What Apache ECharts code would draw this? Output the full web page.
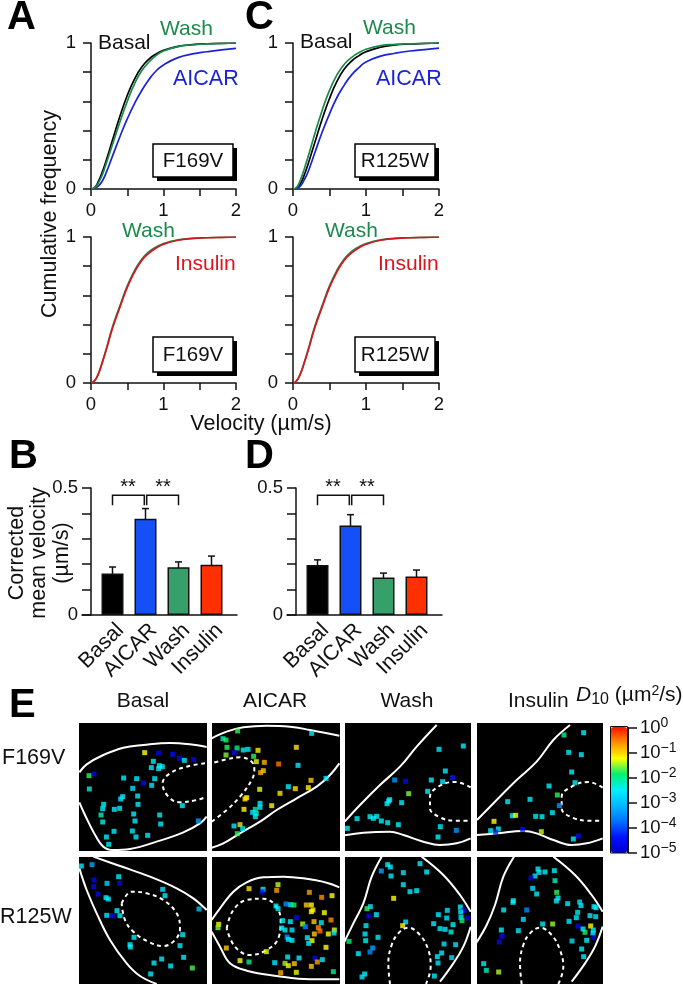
<!DOCTYPE html>
<html><head><meta charset="utf-8"><style>html,body{margin:0;padding:0;background:#fff;overflow:hidden}#c{width:683px;height:984px}</style>
<script src="https://cdn.jsdelivr.net/npm/echarts@6/dist/echarts.min.js"></script></head><body><div id="c"></div><script>
// ---- cumulative frequency curves
const velocity=[0,.05,.1,.15,.2,.3,.4,.5,.6,.7,.8,.9,1,1.2,1.4,1.6,1.8,2];
const aBasal=[0,.01,.05,.11,.18,.34,.5,.64,.752,.835,.89,.925,.95,.977,.989,.995,.998,1];
const aWash=[0,.008,.04,.09,.16,.31,.46,.6,.72,.81,.87,.915,.945,.975,.988,.994,.997,1];
const aAicar=[0,.005,.02,.05,.1,.23,.36,.48,.585,.675,.75,.81,.85,.9,.925,.94,.953,.963];
const aWash2=[0,.016,.062,.135,.215,.39,.53,.665,.77,.848,.9,.932,.955,.98,.991,.995,.998,1];
const aInsulin=[0,.015,.06,.13,.21,.38,.52,.655,.76,.84,.89,.925,.95,.978,.99,.995,.998,1];
const cBasal=[0,.006,.035,.09,.16,.32,.48,.62,.735,.82,.875,.912,.94,.972,.987,.993,.997,1];
const cWash=[0,.012,.06,.13,.21,.38,.54,.675,.78,.853,.9,.933,.957,.982,.991,.995,.998,1];
const cAicar=[0,.004,.02,.06,.11,.25,.39,.515,.625,.71,.78,.83,.87,.91,.93,.945,.955,.965];
const cWash2=[0,.016,.062,.135,.215,.39,.53,.665,.77,.848,.9,.932,.955,.98,.991,.995,.998,1];
const cInsulin=[0,.015,.06,.13,.21,.38,.52,.655,.76,.84,.89,.925,.95,.978,.99,.995,.998,1];
// ---- bars
const conditions=['Basal','AICAR','Wash','Insulin'];
const barColors=['#000000','#1450f5','#35a06a','#ff3000'];
const bMean=[.163,.379,.188,.198], bHigh=[.189,.419,.209,.232], bLow=[.137,.339,.161,.159];
const dMean=[.197,.352,.148,.152], dHigh=[.217,.395,.165,.177], dLow=[.177,.304,.126,.122];
// ---- D10 maps: [x, y, log10 D]
const fBasal=[[224,113,-1.25],[266,114,-4.6],[308,118,-4.5],[329,130,-4.6],[343,136,-2.5],[371,134,-4.6],[250,139,-2.5],[244,158,-2.5],[268,152,-2.5],[277,155,-2.5],[266,161,-2.5],[57,182,-1.75],[72,177,-4.6],[161,189,-2.5],[200,191,-2.5],[254,191,-2.5],[220,204,-4.6],[245,211,-2.6],[188,220,-2.6],[58,222,-2.3],[203,243,-2.5],[158,245,-2.5],[152,252,-2.6],[204,268,-2.5],[101,268,-2.5],[98,281,-2.5],[133,283,-2.5],[149,280,-2.5],[93,300,-2.2],[191,297,-2.5],[269,300,-2.5],[337,272,-2.5],[195,318,-2.5],[98,321,-2.4],[272,327,-2.5],[385,318,-3.3],[187,348,-2.5],[132,349,-2.5],[109,366,-2.5],[198,366,-2.5],[233,361,-2.5],[116,388,-2.5]];
const fAicar=[[503,48,-1.75],[725,55,-2.5],[459,71,-2.2],[468,75,-1.8],[471,97,-1.75],[501,99,-1.9],[493,113,-4.5],[520,105,-2.5],[534,103,-2.5],[564,106,-1.15],[679,97,-1.1],[468,120,-1.55],[551,124,-1.75],[559,140,-1.3],[583,142,-.85],[626,147,-.5],[684,151,-2.5],[580,167,-.95],[572,173,-.8],[768,190,-2.5],[723,196,-.95],[655,215,-2.5],[676,221,-1.1],[715,218,-1.2],[569,223,-1.3],[630,235,-1.1],[530,248,-1.25],[525,252,-1.1],[570,265,-2.5],[570,277,-2.5],[605,272,-1.2],[522,283,-1.2],[556,283,-2.05],[548,292,-2.5],[559,295,-2.3],[556,305,-2.5],[492,333,-2.5],[510,329,-1.1],[518,341,-2.5],[502,356,-1.75]];
const fWash=[[370,168,-2.5],[297,178,-2.5],[316,243,-2.5],[274,270,-2.5],[308,275,-2.5],[164,270,-3.4],[197,274,-4.6],[338,263,-4.3],[263,304,-2.5],[206,311,-1.55],[149,329,-2.5],[146,333,-2.5],[141,341,-2.5],[185,338,-2.5],[51,386,-2.5],[90,380,-2.5],[100,385,-2.5],[110,379,-2.5],[124,393,-2.5],[143,398,-2.5],[175,404,-2.5],[22,415,-2.5],[301,410,-2.5],[349,421,-3.4],[294,441,-2.5]];
const fInsulin=[[731,128,-2.5],[672,135,-2.05],[686,187,-2.5],[724,194,-2.5],[695,246,-2.5],[705,278,-2.5],[627,288,-2.5],[652,315,-1.75],[570,328,-2.5],[503,335,-2.5],[658,347,-3.4],[637,368,-2.5],[517,377,-2.5],[527,376,-1.25],[587,379,-2.5],[606,380,-2.5],[462,394,-1.25],[475,417,-2.5],[452,422,-2.5],[467,426,-4.2],[548,418,-4.5],[604,425,-1.4],[715,438,-4.5],[700,447,-2.5]];
const rBasal=[[34,48,-2.5],[66,44,-3.3],[146,80,-2.6],[72,90,-4.6],[111,100,-2.8],[149,100,-4.6],[71,110,-4.6],[278,118,-2.6],[84,132,-4.6],[285,137,-2.5],[108,143,-2.5],[115,147,-2.5],[141,182,-2.5],[110,196,-2.6],[128,197,-4.6],[150,197,-2.5],[387,177,-3],[338,254,-2.5],[192,262,-2.5],[180,284,-2.5],[181,291,-2.5],[330,287,-2.5],[341,322,-2.5],[275,327,-2.5],[252,339,-2.5],[302,348,-2.5],[367,354,-1.7],[242,372,-2.5]];
const rAicar=[[624,104,-1.4],[537,116,-1.1],[620,121,-.7],[579,118,-2.5],[576,126,-4.5],[718,127,-.7],[786,137,-1.25],[755,142,-.6],[648,162,-3.5],[662,164,-2.5],[672,165,-1.8],[618,168,-2.5],[624,176,-2.5],[709,165,-.95],[724,165,-1.25],[729,180,-1.1],[724,185,-1.25],[763,188,-1.25],[680,203,-4.5],[783,210,-.6],[638,212,-2.5],[661,215,-2.5],[732,215,-.95],[754,218,-2.5],[698,222,-1.45],[706,230,-3.5],[745,233,-.6],[750,243,-.5],[635,234,-2.5],[645,240,-2.5],[666,240,-2.6],[733,252,-.95],[775,252,-1.25],[793,240,-1.3],[792,249,-2.5],[446,223,-1.25],[444,233,-1.6],[651,261,-3.5],[712,263,-2.5],[655,268,-2.6],[666,271,-2.5],[726,272,-1.25],[716,280,-2.5],[469,294,-.95],[768,292,-1.25],[589,305,-1.3],[653,321,-2.5],[687,324,-2.5],[510,332,-1.25],[537,336,-2.05],[614,338,-2.5],[645,340,-1.5],[735,325,-4.6],[742,336,-.7],[757,329,-2.5],[673,341,-.95],[655,347,-1.3],[724,349,-.95],[632,368,-.8],[679,367,-1.3],[790,365,-2.05]];
const rWash=[[143,44,-2.5],[151,51,-2.5],[240,41,-2.5],[124,63,-3.3],[190,68,-2.6],[260,66,-2.5],[153,78,-2.5],[190,104,-2.5],[210,125,-2.5],[230,122,-2.5],[161,145,-1.25],[91,170,-2.5],[81,176,-1.75],[361,171,-2.5],[372,181,-4.6],[322,181,-2.6],[362,186,-2.5],[295,194,-2.6],[109,194,-2.5],[86,198,-4.7],[320,204,-2.6],[363,202,-2.5],[384,204,-4.6],[366,212,-1.9],[197,216,-2.5],[281,221,-2.5],[339,224,-2.5],[188,227,-1.25],[78,227,-2.5],[300,236,-2.5],[315,238,-2.5],[333,246,-2.4],[75,252,-2.5],[114,262,-2.5],[77,272,-2.5],[27,274,-1.9],[312,282,-2.6],[347,284,-2.6],[98,294,-3.3],[90,306,-3.5],[55,311,-2.5],[305,309,-2.5],[292,320,-2.5],[335,323,-2.7],[294,339,-2.6],[74,372,-2.5],[66,381,-2.6],[283,378,-2.5]];
const rInsulin=[[594,57,-2.5],[597,67,-2.5],[615,66,-2.5],[643,62,-2.5],[585,78,-2.6],[573,84,-4.6],[645,92,-2.2],[578,115,-2.6],[590,132,-2.5],[650,127,-1.75],[654,144,-2.5],[649,153,-2.5],[520,152,-2.5],[519,157,-2.5],[719,156,-2.7],[683,161,-2.5],[723,167,-2.5],[762,170,-2.5],[768,173,-2.5],[491,180,-2.5],[560,180,-3.5],[713,187,-2.5],[750,197,-2.5],[767,200,-2.6],[709,203,-2.5],[550,208,-2.6],[687,214,-2.5],[608,222,-2.5],[638,222,-1.5],[714,228,-4.6],[729,237,-2.5],[752,228,-1.25],[760,240,-2.5],[535,242,-2.6],[484,240,-2.5],[735,247,-1.8],[759,250,-2.5],[486,259,-4.5],[760,263,-4.7],[478,276,-4.6],[696,273,-2.7],[740,271,-2.5],[725,297,-2.5],[731,320,-2.5],[431,341,-2.5],[439,361,-2.2],[476,366,-1.45]];
// ---- cell outlines (solid) and nuclei (dashed)
const fBasalEdge=[[[28,172],[50,148],[100,120],[160,98],[220,90],[300,84],[360,88],[410,96]],[[28,262],[45,300],[70,350],[100,395],[130,405],[180,402],[260,380],[340,352],[390,325],[410,305]]];
const fBasalNuc=[[405,145],[350,155],[300,175],[278,205],[295,245],[330,262],[380,255],[410,245]];
const fAicarEdge=[[[425,70],[470,50],[520,37],[590,32],[660,35],[720,45],[808,62]],[[425,398],[460,385],[510,355],[570,320],[620,285],[680,250],[740,215],[780,180],[808,145]]];
const fAicarNuc=[[425,320],[470,285],[510,245],[545,195],[553,165],[545,140],[510,127],[470,133],[425,145]];
const fWashEdge=[[[14,395],[60,345],[120,285],[180,230],[230,170],[290,105]],[[14,436],[70,428],[150,425],[190,435],[250,455],[300,465],[350,460],[392,445]]];
const fWashNuc=[[392,292],[345,276],[300,287],[270,320],[270,355],[300,382],[345,392],[392,392]];
const fInsulinEdge=[[[411,390],[470,330],[530,270],[590,215],[640,150],[690,105]],[[411,435],[470,430],[550,423],[590,430],[640,450],[695,465],[740,460],[788,445]]];
const fInsulinNuc=[[788,293],[745,276],[700,287],[665,320],[665,355],[695,382],[745,392],[788,392]];
const rBasalEdge=[[[70,20],[150,48],[240,80],[320,115],[370,145],[410,180]],[[28,55],[50,120],[80,190],[120,270],[170,340],[210,378],[260,402]]];
const rBasalNuc=[[155,160],[185,125],[230,130],[280,150],[320,190],[330,235],[315,270],[280,288],[235,275],[190,245],[165,210],[155,160]];
const rAicarEdge=[[[425,210],[450,175],[490,125],[530,97],[580,82],[640,80],[700,85],[770,98],[808,112]],[[425,245],[450,290],[480,340],[530,362],[620,378],[720,388],[808,388]]];
const rAicarNuc=[[470,235],[490,180],[530,150],[580,146],[615,165],[632,210],[625,265],[590,300],[540,315],[495,290],[470,235]];
const rWashEdge=[[[11,280],[40,220],[70,160],[95,80],[125,20]],[[245,20],[310,75],[360,135],[392,185]],[[392,230],[370,290],[340,340],[300,395]]];
const rWashNuc=[[150,402],[145,340],[155,285],[175,250],[205,233],[240,255],[265,300],[272,350],[258,402]];
const rInsulinEdge=[[[408,280],[440,225],[465,165],[490,80],[522,20]],[[640,20],[705,75],[755,135],[788,185]],[[788,230],[765,290],[735,340],[695,395]]];
const rInsulinNuc=[[545,402],[540,340],[550,285],[570,250],[600,233],[635,255],[660,300],[670,350],[655,402]];

const FF='"Liberation Sans",Arial,sans-serif', INK='#111';
const GREEN='#1c8a4c',BLUE='#1a22d8',RED='#dc1420';
const grid=[],xAxis=[],yAxis=[],series=[],graphic=[];
function addGrid(g,x,y){grid.push(g);const i=grid.length-1;xAxis.push(Object.assign({gridIndex:i},x));yAxis.push(Object.assign({gridIndex:i},y));return i;}
const lineAx={lineStyle:{color:INK,width:1.5}};
function curvePanel(l,t,w,curves){
  const i=addGrid({left:l,top:t,width:w,height:146},
   {type:'value',min:0,max:2,interval:.5,splitLine:{show:false},axisLine:lineAx,axisTick:{length:7,lineStyle:{color:INK,width:1.5}},
    axisLabel:{fontFamily:FF,fontSize:18.5,color:INK,margin:12,formatter:v=>v%1===0?String(v):''}},
   {type:'value',min:0,max:1,interval:.2,splitLine:{show:false},axisLine:lineAx,axisTick:{length:8,lineStyle:{color:INK,width:1.5}},
    axisLabel:{fontFamily:FF,fontSize:18.5,color:INK,margin:15,formatter:v=>(v===0||v===1)?String(v):''}});
  curves.forEach(([vals,col])=>series.push({type:'line',xAxisIndex:i,yAxisIndex:i,data:velocity.map((v,k)=>[v,vals[k]]),smooth:.5,showSymbol:false,silent:true,lineStyle:{color:col,width:1.7}}));
}
curvePanel(91,43,145,[[aBasal,'#000'],[aAicar,BLUE],[aWash,GREEN]]);
curvePanel(293,43,146,[[cBasal,'#000'],[cAicar,BLUE],[cWash,GREEN]]);
curvePanel(91,237,145,[[aWash2,GREEN],[aInsulin,RED]]);
curvePanel(293,237,146,[[cWash2,GREEN],[cInsulin,RED]]);

function barPanel(l,mean,hi,lo){
  const top=488,h=127;
  // baseline extends past the bars
  addGrid({left:l-14,top,width:155,height:h},
    {type:'value',min:0,max:1,axisLine:lineAx,axisTick:{show:false},axisLabel:{show:false},splitLine:{show:false}},
    {type:'value',show:false,min:0,max:1});
  // rotated category labels
  addGrid({left:l+8,top,width:132,height:h},
    {type:'category',data:conditions,axisLine:{show:false},axisTick:{show:false},axisLabel:{interval:0,rotate:45,fontFamily:FF,fontSize:21.5,color:INK,margin:12}},
    {type:'value',show:false,min:0,max:.5});
  const i=addGrid({left:l,top,width:132,height:h},
    {type:'category',data:conditions,axisLine:{show:false},axisTick:{show:false},axisLabel:{show:false}},
    {type:'value',min:0,max:.5,interval:.1,offset:5,splitLine:{show:false},axisLine:Object.assign({show:true},lineAx),axisTick:{show:true,length:9,lineStyle:{color:INK,width:1.5}},
     axisLabel:{fontFamily:FF,fontSize:18.5,color:INK,margin:13,formatter:v=>v===0?'0':(Math.abs(v-.5)<1e-6?'0.5':'')}});
  series.push({type:'bar',xAxisIndex:i,yAxisIndex:i,barWidth:22,silent:true,data:mean.map((v,k)=>({value:v,itemStyle:{color:barColors[k],borderColor:'#111',borderWidth:1.5}}))});
  series.push({type:'custom',xAxisIndex:i,yAxisIndex:i,silent:true,encode:{x:0,y:[1,2]},data:hi.map((v,k)=>[k,v,lo[k]]),
    renderItem(p,api){const a=api.coord([api.value(0),api.value(1)]),b=api.coord([api.value(0),api.value(2)]);
      const s={stroke:'#111',lineWidth:1.5,fill:null};
      return {type:'group',children:[[a[0],a[1],b[0],b[1]],[a[0]-3.5,a[1],a[0]+3.5,a[1]],[b[0]-3.5,b[1],b[0]+3.5,b[1]]].map(q=>({type:'line',shape:{x1:q[0],y1:q[1],x2:q[2],y2:q[3]},style:s}))};}});
  series.push({type:'custom',xAxisIndex:i,yAxisIndex:i,silent:true,encode:{x:[0,1],y:[2,3]},data:[[0,1,.471,.432,-1.2],[1,2,.471,.432,1.2]],
    renderItem(p,api){const s=api.value(4);const a=api.coord([api.value(0),api.value(2)]),b=api.coord([api.value(1),api.value(2)]),e=api.value(3);
      const d=api.coord([0,e])[1];const sx=s<0?b[0]+s:a[0]+s;const ox=s<0?a[0]:b[0];
      return {type:'polyline',shape:{points:[[ox,d],[ox,a[1]],[sx,a[1]],[sx,d]]},style:{stroke:'#111',lineWidth:1.5,fill:null}};}});
}
barPanel(96,bMean,bHigh,bLow);
barPanel(301,dMean,dHigh,dLow);

// ---- cell panels
const panels=[
 [79,723,128,128,70,715,fBasal,fBasalEdge,fBasalNuc],[212,723,128,128,70,715,fAicar,fAicarEdge,fAicarNuc],
 [345,723,126,128,340,690,fWash,fWashEdge,fWashNuc],[477,723,126,128,340,690,fInsulin,fInsulinEdge,fInsulinNuc],
 [79,857,128,127,70,850,rBasal,rBasalEdge,rBasalNuc],[212,857,128,127,70,850,rAicar,rAicarEdge,rAicarNuc],
 [345,857,126,127,340,850,rWash,rWashEdge,rWashNuc],[477,857,126,127,340,850,rInsulin,rInsulinEdge,rInsulinNuc]];
const scatterIdx=[];
panels.forEach(([l,t,w,h,cx,cy,pts,edges,nuc])=>{
  const mx=(l-cx)*3,my=(t-cy)*3;
  const i=addGrid({left:l,top:t,width:w,height:h,show:true,backgroundColor:'#000',borderWidth:0},
    {type:'value',show:false,min:mx,max:mx+w*3},{type:'value',show:false,inverse:true,min:my,max:my+h*3});
  edges.forEach(e=>series.push({type:'line',xAxisIndex:i,yAxisIndex:i,data:e,smooth:.4,showSymbol:false,silent:true,clip:true,lineStyle:{color:'#fff',width:2}}));
  series.push({type:'line',xAxisIndex:i,yAxisIndex:i,data:nuc,smooth:.4,showSymbol:false,silent:true,clip:true,lineStyle:{color:'#fff',width:2,type:[4,3.5]}});
  scatterIdx.push(series.length);
  series.push({type:'scatter',xAxisIndex:i,yAxisIndex:i,data:pts,symbol:'rect',symbolSize:5,silent:true,clip:true,z:5});
});
// colour scale axis
addGrid({left:611,top:727.7,width:17,height:125},
  {type:'value',show:false,min:0,max:1},
  {type:'value',position:'right',z:12,min:-5,max:0,interval:1,splitLine:{show:false},axisLine:{show:true,onZero:false,lineStyle:{color:'#111',width:1}},axisTick:{show:true,length:9,lineStyle:{color:INK,width:1.5}},
   axisLabel:{margin:12,color:INK,fontFamily:FF,formatter:v=>'{b|10}{s|'+(v===0?'0':'\u2212'+(-v))+'}',
     rich:{b:{fontFamily:FF,fontSize:18.5,color:INK},s:{fontFamily:FF,fontSize:14,color:INK,padding:[0,0,9,0]}}}});

// ---- text
function T(text,x,y,size,o={}){graphic.push({type:'text',x,y,rotation:o.rot||0,z:20,style:{text,fontFamily:FF,fontSize:size,fontWeight:o.bold?'bold':'normal',fill:o.color||INK,textAlign:o.align||'left',textVerticalAlign:'middle',rich:o.rich}});}
function Box(text,l,t,w,h){
  graphic.push({type:'rect',z:18,shape:{x:l+4,y:t+4,width:w,height:h},style:{fill:'#000'}});
  graphic.push({type:'rect',z:19,shape:{x:l,y:t,width:w,height:h},style:{fill:'#fff',stroke:'#000',lineWidth:1.5}});
  T(text,l+w/2,t+h/2+.5,20.5,{align:'center'});
}
[['A',7,18],['C',245,18],['B',9,457],['D',245,457],['E',9,706]].forEach(([s,x,y])=>T(s,x,y,40,{bold:true,color:'#000'}));
T('Basal',98,43,21);T('Wash',160,29,21,{color:GREEN});T('AICAR',173,79,21.5,{color:BLUE});
T('Basal',300,42,21);T('Wash',363,28,21,{color:GREEN});T('AICAR',376,79,21.5,{color:BLUE});
T('Wash',122,231,21,{color:GREEN});T('Insulin',175,264,21,{color:RED});
T('Wash',325,231,21,{color:GREEN});T('Insulin',378,264,21,{color:RED});
Box('F169V',153,144,80,33);Box('R125W',355,144,80,33);Box('F169V',153,337,80,35);Box('R125W',355,337,80,35);
T('Cumulative frequency',50,214,21.5,{rot:Math.PI/2,align:'center'});
T('Velocity (\u00b5m/s)',261,424,21.5,{align:'center'});
T('Corrected',17,553,21.5,{rot:Math.PI/2,align:'center'});
T('mean velocity',39,553,21.5,{rot:Math.PI/2,align:'center'});
T('(\u00b5m/s)',62,553,21.5,{rot:Math.PI/2,align:'center'});
[128,163,333,367].forEach(x=>T('**',x,487,20,{align:'center'}));
T('Basal',143,701,21,{align:'center'});T('AICAR',275,701,21,{align:'center'});T('Wash',407,701,21,{align:'center'});T('Insulin',508,701,21);
T('{i|D}{s|10}{n| (\u00b5m}{p|2}{n|/s)}',576,695,21,{rich:{
  i:{fontFamily:FF,fontSize:21,fontStyle:'italic',color:INK},
  s:{fontFamily:FF,fontSize:16,color:INK,padding:[9,0,0,0]},
  n:{fontFamily:FF,fontSize:21,color:INK},
  p:{fontFamily:FF,fontSize:14,color:INK,padding:[0,0,8,0]}}});
T('F169V',2,758,21.5);T('R125W',0,917,21.5);
// colour scale frame
graphic.push({type:'rect',z:20,shape:{x:610.5,y:726.5,width:17,height:126.5},style:{fill:null,stroke:'#111',lineWidth:1}});

const option={animation:false,backgroundColor:'#fff',grid,xAxis,yAxis,series,graphic,
 visualMap:[{type:'continuous',show:true,z:1,seriesIndex:scatterIdx,dimension:2,min:-5,max:0,calculable:false,left:611,top:727,itemWidth:16,itemHeight:126,text:['',''],showLabel:false,
   padding:0,borderWidth:0,hoverLink:false,
   inRange:{color:['#0000d0','#0010ff','#0070ff','#00b8ff','#00f0ff','#00f070','#ffff00','#ff9000','#ff1000']}}]};
echarts.init(document.getElementById('c'),null,{renderer:'canvas'}).setOption(option);
</script></body></html>
